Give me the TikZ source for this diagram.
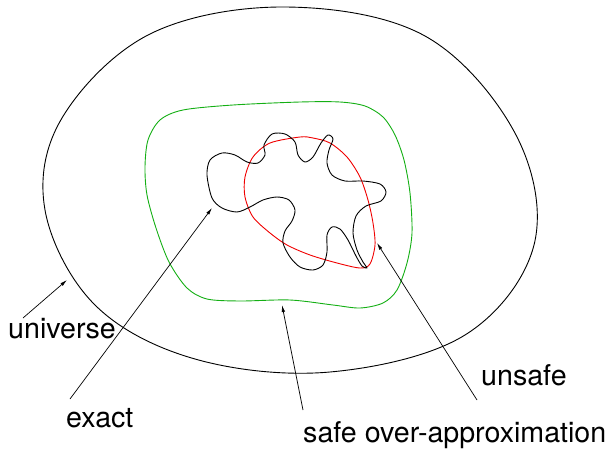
\documentclass[tikz,border=0pt]{standalone}
\usepackage{fontspec}
\setmainfont{TeX Gyre Heros}
\usetikzlibrary{arrows.meta}
\definecolor{safegreen}{RGB}{20,175,20}
\definecolor{unsafered}{RGB}{240,0,0}
\tikzset{
  region/.style={line width=0.9pt, line join=round},
  pointer/.style={line width=0.7pt, -{Latex[length=7pt,width=3.5pt]}},
  lbl/.style={anchor=base west, inner sep=0pt, font=\fontsize{28.6}{34}\selectfont}
}
\begin{document}
\begin{tikzpicture}[x=1pt,y=-1pt]
\useasboundingbox (0,0) rectangle (614,450);
% universe
\draw[region] plot[smooth cycle, tension=0.6] coordinates {
 (285,7) (425,36) (516,135) (534,245) (465,335) (330,372) (195,359)
 (95,305) (45,210) (62,118) (150,34)};
% safe over-approximation
\draw[region, safegreen] plot[smooth cycle] coordinates {
 (233,105) (300,102) (340,102) (365,106) (383,117) (395,135) (404,160)
 (410,193) (412,233) (407,263) (397,290) (383,303) (360,308) (333,305)
 (290,300) (240,301) (207,299) (187,288) (169,262) (156,228)
 (147,195) (145,167) (148,140) (160,120) (183,110)};
% unsafe
\draw[region, unsafered] plot[smooth cycle] coordinates {
 (300,137) (270,143) (253,157) (245,177) (245,197) (253,217) (270,233)
 (287,245) (310,255) (337,263) (360,268) (370,264) (375,245) (373,223)
 (368,200) (360,177) (347,157) (330,143) (313,138)};
% exact
\draw[region] plot[smooth cycle] coordinates {
 (207,175) (210,160) (222,153) (235,155) (247,162) (258,163) (265,155)
 (264,145) (272,134) (285,134) (295,142) (298,155) (305,162) (313,157)
 (321,143) (328,135) (333,139) (329,150) (327,163) (332,175) (345,181)
 (363,181) (380,184) (386,192) (381,201) (366,206) (356,216) (353,233)
 (357,250) (363,262) (367,268) (362,266) (356,256) (348,240) (340,229)
 (332,227) (327,235) (327,252) (323,265) (313,270) (300,267) (290,257)
 (283,243) (285,231) (292,221) (295,210) (289,200) (277,197) (263,200)
 (250,207) (237,212) (222,208) (212,198)};
% labels
\node[lbl] (universe) at (8,338) {universe};
\node[lbl] (exact) at (66,427) {exact};
\node[lbl] (unsafe) at (481,385) {unsafe};
\node[lbl] (safe) at (303,442) {safe over-approximation};
% arrow ends
\coordinate (universeTail) at (23,318);
\coordinate (universeTip) at (67,280);
\coordinate (exactTail) at (70,399);
\coordinate (exactTip) at (212,208);
\coordinate (safeTail) at (303,410);
\coordinate (safeTip) at (282,305);
\coordinate (unsafeTail) at (477,400);
\coordinate (unsafeTip) at (377,243);
\draw[pointer] (universeTail) -- (universeTip);
\draw[pointer] (exactTail) -- (exactTip);
\draw[pointer] (safeTail) -- (safeTip);
\draw[pointer] (unsafeTail) -- (unsafeTip);
\end{tikzpicture}
\end{document}
